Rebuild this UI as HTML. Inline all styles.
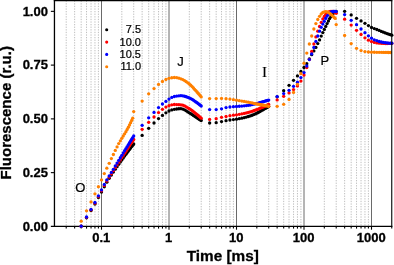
<!DOCTYPE html>
<html><head><meta charset="utf-8"><title>Fluorescence</title>
<style>
html,body{margin:0;padding:0;background:#fff;}
body{width:394px;height:265px;overflow:hidden;position:relative;font-family:"Liberation Sans",sans-serif;}
text{font-family:"Liberation Sans",sans-serif;fill:#000;}
text.r,text.s{stroke:#000;stroke-width:0.22px;}
text.b{stroke:#000;stroke-width:0.3px;}
text.b{font-weight:bold;}
text.s{font-family:"Liberation Serif",serif;}
</style></head><body>
<svg width="394" height="265" viewBox="0 0 394 265" style="position:absolute;left:0;top:0;will-change:transform">
<rect x="0" y="0" width="394" height="265" fill="#fff"/>
<g stroke="#b8b8b8" stroke-width="0.9" stroke-dasharray="1.3 1.3" fill="none"><line x1="66.21" y1="0.6" x2="66.21" y2="226.4"/><line x1="74.64" y1="0.6" x2="74.64" y2="226.4"/><line x1="81.18" y1="0.6" x2="81.18" y2="226.4"/><line x1="86.53" y1="0.6" x2="86.53" y2="226.4"/><line x1="91.04" y1="0.6" x2="91.04" y2="226.4"/><line x1="94.96" y1="0.6" x2="94.96" y2="226.4"/><line x1="98.41" y1="0.6" x2="98.41" y2="226.4"/><line x1="121.82" y1="0.6" x2="121.82" y2="226.4"/><line x1="133.71" y1="0.6" x2="133.71" y2="226.4"/><line x1="142.14" y1="0.6" x2="142.14" y2="226.4"/><line x1="148.68" y1="0.6" x2="148.68" y2="226.4"/><line x1="154.03" y1="0.6" x2="154.03" y2="226.4"/><line x1="158.54" y1="0.6" x2="158.54" y2="226.4"/><line x1="162.46" y1="0.6" x2="162.46" y2="226.4"/><line x1="165.91" y1="0.6" x2="165.91" y2="226.4"/><line x1="189.32" y1="0.6" x2="189.32" y2="226.4"/><line x1="201.21" y1="0.6" x2="201.21" y2="226.4"/><line x1="209.64" y1="0.6" x2="209.64" y2="226.4"/><line x1="216.18" y1="0.6" x2="216.18" y2="226.4"/><line x1="221.53" y1="0.6" x2="221.53" y2="226.4"/><line x1="226.04" y1="0.6" x2="226.04" y2="226.4"/><line x1="229.96" y1="0.6" x2="229.96" y2="226.4"/><line x1="233.41" y1="0.6" x2="233.41" y2="226.4"/><line x1="256.82" y1="0.6" x2="256.82" y2="226.4"/><line x1="268.71" y1="0.6" x2="268.71" y2="226.4"/><line x1="277.14" y1="0.6" x2="277.14" y2="226.4"/><line x1="283.68" y1="0.6" x2="283.68" y2="226.4"/><line x1="289.03" y1="0.6" x2="289.03" y2="226.4"/><line x1="293.54" y1="0.6" x2="293.54" y2="226.4"/><line x1="297.46" y1="0.6" x2="297.46" y2="226.4"/><line x1="300.91" y1="0.6" x2="300.91" y2="226.4"/><line x1="324.32" y1="0.6" x2="324.32" y2="226.4"/><line x1="336.21" y1="0.6" x2="336.21" y2="226.4"/><line x1="344.64" y1="0.6" x2="344.64" y2="226.4"/><line x1="351.18" y1="0.6" x2="351.18" y2="226.4"/><line x1="356.53" y1="0.6" x2="356.53" y2="226.4"/><line x1="361.04" y1="0.6" x2="361.04" y2="226.4"/><line x1="364.96" y1="0.6" x2="364.96" y2="226.4"/><line x1="368.41" y1="0.6" x2="368.41" y2="226.4"/></g>
<g stroke="#6a6a6a" stroke-width="1.0" fill="none"><line x1="101.50" y1="0.6" x2="101.50" y2="226.4"/><line x1="169.00" y1="0.6" x2="169.00" y2="226.4"/><line x1="236.50" y1="0.6" x2="236.50" y2="226.4"/><line x1="304.00" y1="0.6" x2="304.00" y2="226.4"/><line x1="371.50" y1="0.6" x2="371.50" y2="226.4"/></g>
<g stroke="#000" stroke-width="1.3" fill="none"><line x1="54.45" y1="-0.050000000000000044" x2="54.45" y2="226.95000000000002"/><line x1="53.800000000000004" y1="0.6" x2="392.4" y2="0.6"/></g>
<line x1="50.85" y1="226.4" x2="392.4" y2="226.4" stroke="#000" stroke-width="1.1"/>
<g stroke="#000" stroke-width="1.1" fill="none"><line x1="50.85" y1="172.64" x2="54.45" y2="172.64"/><line x1="50.85" y1="118.88" x2="54.45" y2="118.88"/><line x1="50.85" y1="65.11" x2="54.45" y2="65.11"/><line x1="50.85" y1="11.35" x2="54.45" y2="11.35"/><line x1="101.50" y1="226.4" x2="101.50" y2="229.70000000000002"/><line x1="169.00" y1="226.4" x2="169.00" y2="229.70000000000002"/><line x1="236.50" y1="226.4" x2="236.50" y2="229.70000000000002"/><line x1="304.00" y1="226.4" x2="304.00" y2="229.70000000000002"/><line x1="371.50" y1="226.4" x2="371.50" y2="229.70000000000002"/><line x1="66.21" y1="226.4" x2="66.21" y2="228.6"/><line x1="74.64" y1="226.4" x2="74.64" y2="228.6"/><line x1="81.18" y1="226.4" x2="81.18" y2="228.6"/><line x1="86.53" y1="226.4" x2="86.53" y2="228.6"/><line x1="91.04" y1="226.4" x2="91.04" y2="228.6"/><line x1="94.96" y1="226.4" x2="94.96" y2="228.6"/><line x1="98.41" y1="226.4" x2="98.41" y2="228.6"/><line x1="121.82" y1="226.4" x2="121.82" y2="228.6"/><line x1="133.71" y1="226.4" x2="133.71" y2="228.6"/><line x1="142.14" y1="226.4" x2="142.14" y2="228.6"/><line x1="148.68" y1="226.4" x2="148.68" y2="228.6"/><line x1="154.03" y1="226.4" x2="154.03" y2="228.6"/><line x1="158.54" y1="226.4" x2="158.54" y2="228.6"/><line x1="162.46" y1="226.4" x2="162.46" y2="228.6"/><line x1="165.91" y1="226.4" x2="165.91" y2="228.6"/><line x1="189.32" y1="226.4" x2="189.32" y2="228.6"/><line x1="201.21" y1="226.4" x2="201.21" y2="228.6"/><line x1="209.64" y1="226.4" x2="209.64" y2="228.6"/><line x1="216.18" y1="226.4" x2="216.18" y2="228.6"/><line x1="221.53" y1="226.4" x2="221.53" y2="228.6"/><line x1="226.04" y1="226.4" x2="226.04" y2="228.6"/><line x1="229.96" y1="226.4" x2="229.96" y2="228.6"/><line x1="233.41" y1="226.4" x2="233.41" y2="228.6"/><line x1="256.82" y1="226.4" x2="256.82" y2="228.6"/><line x1="268.71" y1="226.4" x2="268.71" y2="228.6"/><line x1="277.14" y1="226.4" x2="277.14" y2="228.6"/><line x1="283.68" y1="226.4" x2="283.68" y2="228.6"/><line x1="289.03" y1="226.4" x2="289.03" y2="228.6"/><line x1="293.54" y1="226.4" x2="293.54" y2="228.6"/><line x1="297.46" y1="226.4" x2="297.46" y2="228.6"/><line x1="300.91" y1="226.4" x2="300.91" y2="228.6"/><line x1="324.32" y1="226.4" x2="324.32" y2="228.6"/><line x1="336.21" y1="226.4" x2="336.21" y2="228.6"/><line x1="344.64" y1="226.4" x2="344.64" y2="228.6"/><line x1="351.18" y1="226.4" x2="351.18" y2="228.6"/><line x1="356.53" y1="226.4" x2="356.53" y2="228.6"/><line x1="361.04" y1="226.4" x2="361.04" y2="228.6"/><line x1="364.96" y1="226.4" x2="364.96" y2="228.6"/><line x1="368.41" y1="226.4" x2="368.41" y2="228.6"/><line x1="391.75" y1="226.4" x2="391.75" y2="228.6"/></g>
<clipPath id="cp"><rect x="54.45" y="0.6" width="339.55" height="228.8"/></clipPath>
<g clip-path="url(#cp)">
<g fill="#000000"><circle cx="81.18" cy="226.20" r="1.65"/><circle cx="86.53" cy="217.80" r="1.65"/><circle cx="91.04" cy="210.60" r="1.65"/><circle cx="94.96" cy="204.00" r="1.65"/><circle cx="98.41" cy="197.60" r="1.65"/><circle cx="101.50" cy="192.00" r="1.65"/><circle cx="104.29" cy="186.79" r="1.65"/><circle cx="106.84" cy="182.20" r="1.65"/><circle cx="109.19" cy="178.36" r="1.65"/><circle cx="111.36" cy="175.00" r="1.65"/><circle cx="113.39" cy="171.98" r="1.65"/><circle cx="115.28" cy="169.22" r="1.65"/><circle cx="117.06" cy="166.69" r="1.65"/><circle cx="118.73" cy="164.33" r="1.65"/><circle cx="120.32" cy="162.11" r="1.65"/><circle cx="121.82" cy="160.00" r="1.65"/><circle cx="123.25" cy="158.00" r="1.65"/><circle cx="124.61" cy="156.11" r="1.65"/><circle cx="125.92" cy="154.31" r="1.65"/><circle cx="127.16" cy="152.61" r="1.65"/><circle cx="128.36" cy="151.00" r="1.65"/><circle cx="129.51" cy="149.47" r="1.65"/><circle cx="130.62" cy="148.01" r="1.65"/><circle cx="131.68" cy="146.61" r="1.65"/><circle cx="132.71" cy="145.28" r="1.65"/><circle cx="133.71" cy="144.00" r="1.65"/><circle cx="142.14" cy="135.40" r="1.65"/><circle cx="148.68" cy="128.30" r="1.65"/><circle cx="154.03" cy="123.00" r="1.65"/><circle cx="158.54" cy="118.60" r="1.65"/><circle cx="162.46" cy="115.40" r="1.65"/><circle cx="165.91" cy="112.80" r="1.65"/><circle cx="169.00" cy="111.00" r="1.65"/><circle cx="171.79" cy="109.92" r="1.65"/><circle cx="174.34" cy="109.30" r="1.65"/><circle cx="176.69" cy="108.98" r="1.65"/><circle cx="178.86" cy="108.77" r="1.65"/><circle cx="180.89" cy="108.70" r="1.65"/><circle cx="182.78" cy="109.04" r="1.65"/><circle cx="184.56" cy="109.85" r="1.65"/><circle cx="186.23" cy="110.86" r="1.65"/><circle cx="187.82" cy="111.88" r="1.65"/><circle cx="189.32" cy="112.80" r="1.65"/><circle cx="190.75" cy="113.66" r="1.65"/><circle cx="192.11" cy="114.56" r="1.65"/><circle cx="193.42" cy="115.45" r="1.65"/><circle cx="194.66" cy="116.31" r="1.65"/><circle cx="195.86" cy="117.10" r="1.65"/><circle cx="197.01" cy="117.84" r="1.65"/><circle cx="198.12" cy="118.55" r="1.65"/><circle cx="199.18" cy="119.23" r="1.65"/><circle cx="200.21" cy="119.88" r="1.65"/><circle cx="201.21" cy="120.50" r="1.65"/><circle cx="209.64" cy="123.00" r="1.65"/><circle cx="216.18" cy="122.70" r="1.65"/><circle cx="221.53" cy="121.60" r="1.65"/><circle cx="226.04" cy="120.70" r="1.65"/><circle cx="229.96" cy="120.00" r="1.65"/><circle cx="233.41" cy="119.59" r="1.65"/><circle cx="236.50" cy="119.20" r="1.65"/><circle cx="239.29" cy="118.72" r="1.65"/><circle cx="241.84" cy="118.19" r="1.65"/><circle cx="244.19" cy="117.64" r="1.65"/><circle cx="246.36" cy="117.07" r="1.65"/><circle cx="248.39" cy="116.50" r="1.65"/><circle cx="250.28" cy="115.90" r="1.65"/><circle cx="252.06" cy="115.25" r="1.65"/><circle cx="253.73" cy="114.57" r="1.65"/><circle cx="255.32" cy="113.89" r="1.65"/><circle cx="256.82" cy="113.20" r="1.65"/><circle cx="258.25" cy="112.48" r="1.65"/><circle cx="259.61" cy="111.71" r="1.65"/><circle cx="260.92" cy="110.94" r="1.65"/><circle cx="262.16" cy="110.19" r="1.65"/><circle cx="263.36" cy="109.50" r="1.65"/><circle cx="264.51" cy="108.85" r="1.65"/><circle cx="265.62" cy="108.23" r="1.65"/><circle cx="266.68" cy="107.63" r="1.65"/><circle cx="267.71" cy="107.06" r="1.65"/><circle cx="268.71" cy="106.50" r="1.65"/><circle cx="277.14" cy="96.80" r="1.65"/><circle cx="283.68" cy="90.70" r="1.65"/><circle cx="289.03" cy="85.30" r="1.65"/><circle cx="293.54" cy="80.30" r="1.65"/><circle cx="297.46" cy="75.90" r="1.65"/><circle cx="300.91" cy="71.40" r="1.65"/><circle cx="304.00" cy="67.50" r="1.65"/><circle cx="306.79" cy="63.70" r="1.65"/><circle cx="309.34" cy="58.80" r="1.65"/><circle cx="311.69" cy="54.70" r="1.65"/><circle cx="313.86" cy="50.90" r="1.65"/><circle cx="315.89" cy="47.40" r="1.65"/><circle cx="317.78" cy="43.60" r="1.65"/><circle cx="319.56" cy="39.90" r="1.65"/><circle cx="321.23" cy="36.10" r="1.65"/><circle cx="322.82" cy="32.60" r="1.65"/><circle cx="324.32" cy="29.40" r="1.65"/><circle cx="325.75" cy="26.40" r="1.65"/><circle cx="327.11" cy="23.60" r="1.65"/><circle cx="328.42" cy="21.00" r="1.65"/><circle cx="329.66" cy="18.60" r="1.65"/><circle cx="330.86" cy="16.70" r="1.65"/><circle cx="332.01" cy="15.00" r="1.65"/><circle cx="333.12" cy="13.50" r="1.65"/><circle cx="334.18" cy="12.50" r="1.65"/><circle cx="335.21" cy="11.80" r="1.65"/><circle cx="336.21" cy="11.50" r="1.65"/><circle cx="344.64" cy="11.30" r="1.65"/><circle cx="351.18" cy="14.90" r="1.65"/><circle cx="356.53" cy="18.30" r="1.65"/><circle cx="361.04" cy="20.90" r="1.65"/><circle cx="364.96" cy="23.30" r="1.65"/><circle cx="368.41" cy="25.60" r="1.65"/><circle cx="371.50" cy="27.50" r="1.65"/><circle cx="374.29" cy="28.60" r="1.65"/><circle cx="376.84" cy="29.50" r="1.65"/><circle cx="379.19" cy="30.45" r="1.65"/><circle cx="381.36" cy="31.38" r="1.65"/><circle cx="383.39" cy="32.20" r="1.65"/><circle cx="385.28" cy="32.91" r="1.65"/><circle cx="387.06" cy="33.56" r="1.65"/><circle cx="388.73" cy="34.15" r="1.65"/><circle cx="390.32" cy="34.69" r="1.65"/><circle cx="391.82" cy="35.20" r="1.65"/></g>
<g fill="#ff0000"><circle cx="81.18" cy="226.20" r="1.65"/><circle cx="86.53" cy="217.30" r="1.65"/><circle cx="91.04" cy="209.90" r="1.65"/><circle cx="94.96" cy="203.20" r="1.65"/><circle cx="98.41" cy="196.60" r="1.65"/><circle cx="101.50" cy="190.80" r="1.65"/><circle cx="104.29" cy="185.57" r="1.65"/><circle cx="106.84" cy="181.00" r="1.65"/><circle cx="109.19" cy="177.19" r="1.65"/><circle cx="111.36" cy="173.80" r="1.65"/><circle cx="113.39" cy="170.63" r="1.65"/><circle cx="115.28" cy="167.69" r="1.65"/><circle cx="117.06" cy="164.95" r="1.65"/><circle cx="118.73" cy="162.37" r="1.65"/><circle cx="120.32" cy="159.92" r="1.65"/><circle cx="121.82" cy="157.60" r="1.65"/><circle cx="123.25" cy="155.38" r="1.65"/><circle cx="124.61" cy="153.27" r="1.65"/><circle cx="125.92" cy="151.25" r="1.65"/><circle cx="127.16" cy="149.33" r="1.65"/><circle cx="128.36" cy="147.50" r="1.65"/><circle cx="129.51" cy="145.76" r="1.65"/><circle cx="130.62" cy="144.09" r="1.65"/><circle cx="131.68" cy="142.50" r="1.65"/><circle cx="132.71" cy="140.97" r="1.65"/><circle cx="133.71" cy="139.50" r="1.65"/><circle cx="142.14" cy="129.30" r="1.65"/><circle cx="148.68" cy="122.30" r="1.65"/><circle cx="154.03" cy="117.00" r="1.65"/><circle cx="158.54" cy="112.60" r="1.65"/><circle cx="162.46" cy="109.30" r="1.65"/><circle cx="165.91" cy="107.10" r="1.65"/><circle cx="169.00" cy="105.70" r="1.65"/><circle cx="171.79" cy="104.86" r="1.65"/><circle cx="174.34" cy="104.50" r="1.65"/><circle cx="176.69" cy="104.54" r="1.65"/><circle cx="178.86" cy="104.65" r="1.65"/><circle cx="180.89" cy="104.80" r="1.65"/><circle cx="182.78" cy="105.20" r="1.65"/><circle cx="184.56" cy="105.95" r="1.65"/><circle cx="186.23" cy="106.86" r="1.65"/><circle cx="187.82" cy="107.80" r="1.65"/><circle cx="189.32" cy="108.70" r="1.65"/><circle cx="190.75" cy="109.61" r="1.65"/><circle cx="192.11" cy="110.60" r="1.65"/><circle cx="193.42" cy="111.62" r="1.65"/><circle cx="194.66" cy="112.63" r="1.65"/><circle cx="195.86" cy="113.60" r="1.65"/><circle cx="197.01" cy="114.54" r="1.65"/><circle cx="198.12" cy="115.47" r="1.65"/><circle cx="199.18" cy="116.39" r="1.65"/><circle cx="200.21" cy="117.30" r="1.65"/><circle cx="201.21" cy="118.20" r="1.65"/><circle cx="209.64" cy="119.40" r="1.65"/><circle cx="216.18" cy="118.70" r="1.65"/><circle cx="221.53" cy="117.30" r="1.65"/><circle cx="226.04" cy="116.50" r="1.65"/><circle cx="229.96" cy="115.70" r="1.65"/><circle cx="233.41" cy="115.22" r="1.65"/><circle cx="236.50" cy="114.80" r="1.65"/><circle cx="239.29" cy="114.33" r="1.65"/><circle cx="241.84" cy="113.86" r="1.65"/><circle cx="244.19" cy="113.38" r="1.65"/><circle cx="246.36" cy="112.89" r="1.65"/><circle cx="248.39" cy="112.40" r="1.65"/><circle cx="250.28" cy="111.87" r="1.65"/><circle cx="252.06" cy="111.31" r="1.65"/><circle cx="253.73" cy="110.73" r="1.65"/><circle cx="255.32" cy="110.15" r="1.65"/><circle cx="256.82" cy="109.60" r="1.65"/><circle cx="258.25" cy="109.05" r="1.65"/><circle cx="259.61" cy="108.50" r="1.65"/><circle cx="260.92" cy="107.96" r="1.65"/><circle cx="262.16" cy="107.42" r="1.65"/><circle cx="263.36" cy="106.90" r="1.65"/><circle cx="264.51" cy="106.39" r="1.65"/><circle cx="265.62" cy="105.88" r="1.65"/><circle cx="266.68" cy="105.38" r="1.65"/><circle cx="267.71" cy="104.89" r="1.65"/><circle cx="268.71" cy="104.40" r="1.65"/><circle cx="277.14" cy="99.90" r="1.65"/><circle cx="283.68" cy="96.30" r="1.65"/><circle cx="289.03" cy="92.90" r="1.65"/><circle cx="293.54" cy="89.60" r="1.65"/><circle cx="297.46" cy="85.90" r="1.65"/><circle cx="300.91" cy="81.10" r="1.65"/><circle cx="304.00" cy="75.10" r="1.65"/><circle cx="306.79" cy="67.50" r="1.65"/><circle cx="309.34" cy="59.50" r="1.65"/><circle cx="311.69" cy="51.50" r="1.65"/><circle cx="313.86" cy="44.00" r="1.65"/><circle cx="315.89" cy="36.90" r="1.65"/><circle cx="317.78" cy="31.20" r="1.65"/><circle cx="319.56" cy="26.50" r="1.65"/><circle cx="321.23" cy="22.40" r="1.65"/><circle cx="322.82" cy="19.00" r="1.65"/><circle cx="324.32" cy="16.50" r="1.65"/><circle cx="325.75" cy="14.40" r="1.65"/><circle cx="327.11" cy="12.90" r="1.65"/><circle cx="328.42" cy="12.10" r="1.65"/><circle cx="329.66" cy="11.70" r="1.65"/><circle cx="330.86" cy="11.50" r="1.65"/><circle cx="332.01" cy="11.40" r="1.65"/><circle cx="333.12" cy="11.50" r="1.65"/><circle cx="334.18" cy="11.80" r="1.65"/><circle cx="335.21" cy="12.40" r="1.65"/><circle cx="336.21" cy="13.30" r="1.65"/><circle cx="344.64" cy="19.20" r="1.65"/><circle cx="351.18" cy="25.10" r="1.65"/><circle cx="356.53" cy="30.30" r="1.65"/><circle cx="361.04" cy="34.50" r="1.65"/><circle cx="364.96" cy="37.80" r="1.65"/><circle cx="368.41" cy="40.20" r="1.65"/><circle cx="371.50" cy="41.60" r="1.65"/><circle cx="374.29" cy="42.40" r="1.65"/><circle cx="376.84" cy="42.90" r="1.65"/><circle cx="379.19" cy="43.20" r="1.65"/><circle cx="381.36" cy="43.36" r="1.65"/><circle cx="383.39" cy="43.46" r="1.65"/><circle cx="385.28" cy="43.50" r="1.65"/><circle cx="387.06" cy="43.48" r="1.65"/><circle cx="388.73" cy="43.45" r="1.65"/><circle cx="390.32" cy="43.41" r="1.65"/><circle cx="391.82" cy="43.40" r="1.65"/></g>
<g fill="#0000ff"><circle cx="81.18" cy="226.20" r="1.65"/><circle cx="86.53" cy="217.00" r="1.65"/><circle cx="91.04" cy="209.40" r="1.65"/><circle cx="94.96" cy="202.50" r="1.65"/><circle cx="98.41" cy="195.80" r="1.65"/><circle cx="101.50" cy="189.90" r="1.65"/><circle cx="104.29" cy="184.50" r="1.65"/><circle cx="106.84" cy="179.90" r="1.65"/><circle cx="109.19" cy="176.00" r="1.65"/><circle cx="111.36" cy="172.40" r="1.65"/><circle cx="113.39" cy="169.30" r="1.65"/><circle cx="115.28" cy="166.00" r="1.65"/><circle cx="117.06" cy="163.03" r="1.65"/><circle cx="118.73" cy="160.30" r="1.65"/><circle cx="120.32" cy="157.74" r="1.65"/><circle cx="121.82" cy="155.30" r="1.65"/><circle cx="123.25" cy="152.96" r="1.65"/><circle cx="124.61" cy="150.72" r="1.65"/><circle cx="125.92" cy="148.58" r="1.65"/><circle cx="127.16" cy="146.55" r="1.65"/><circle cx="128.36" cy="144.60" r="1.65"/><circle cx="129.51" cy="142.74" r="1.65"/><circle cx="130.62" cy="140.95" r="1.65"/><circle cx="131.68" cy="139.24" r="1.65"/><circle cx="132.71" cy="137.59" r="1.65"/><circle cx="133.71" cy="136.00" r="1.65"/><circle cx="142.14" cy="125.30" r="1.65"/><circle cx="148.68" cy="117.80" r="1.65"/><circle cx="154.03" cy="112.40" r="1.65"/><circle cx="158.54" cy="107.60" r="1.65"/><circle cx="162.46" cy="104.00" r="1.65"/><circle cx="165.91" cy="101.40" r="1.65"/><circle cx="169.00" cy="99.10" r="1.65"/><circle cx="171.79" cy="97.47" r="1.65"/><circle cx="174.34" cy="96.50" r="1.65"/><circle cx="176.69" cy="96.07" r="1.65"/><circle cx="178.86" cy="95.80" r="1.65"/><circle cx="180.89" cy="95.70" r="1.65"/><circle cx="182.78" cy="95.86" r="1.65"/><circle cx="184.56" cy="96.25" r="1.65"/><circle cx="186.23" cy="96.77" r="1.65"/><circle cx="187.82" cy="97.34" r="1.65"/><circle cx="189.32" cy="97.90" r="1.65"/><circle cx="190.75" cy="98.55" r="1.65"/><circle cx="192.11" cy="99.34" r="1.65"/><circle cx="193.42" cy="100.20" r="1.65"/><circle cx="194.66" cy="101.07" r="1.65"/><circle cx="195.86" cy="101.90" r="1.65"/><circle cx="197.01" cy="102.71" r="1.65"/><circle cx="198.12" cy="103.53" r="1.65"/><circle cx="199.18" cy="104.35" r="1.65"/><circle cx="200.21" cy="105.18" r="1.65"/><circle cx="201.21" cy="106.00" r="1.65"/><circle cx="209.64" cy="109.60" r="1.65"/><circle cx="216.18" cy="109.60" r="1.65"/><circle cx="221.53" cy="108.80" r="1.65"/><circle cx="226.04" cy="107.60" r="1.65"/><circle cx="229.96" cy="107.00" r="1.65"/><circle cx="233.41" cy="106.72" r="1.65"/><circle cx="236.50" cy="106.50" r="1.65"/><circle cx="239.29" cy="106.26" r="1.65"/><circle cx="241.84" cy="106.04" r="1.65"/><circle cx="244.19" cy="105.81" r="1.65"/><circle cx="246.36" cy="105.57" r="1.65"/><circle cx="248.39" cy="105.30" r="1.65"/><circle cx="250.28" cy="104.98" r="1.65"/><circle cx="252.06" cy="104.59" r="1.65"/><circle cx="253.73" cy="104.18" r="1.65"/><circle cx="255.32" cy="103.78" r="1.65"/><circle cx="256.82" cy="103.40" r="1.65"/><circle cx="258.25" cy="103.03" r="1.65"/><circle cx="259.61" cy="102.66" r="1.65"/><circle cx="260.92" cy="102.29" r="1.65"/><circle cx="262.16" cy="101.94" r="1.65"/><circle cx="263.36" cy="101.60" r="1.65"/><circle cx="264.51" cy="101.28" r="1.65"/><circle cx="265.62" cy="100.97" r="1.65"/><circle cx="266.68" cy="100.67" r="1.65"/><circle cx="267.71" cy="100.38" r="1.65"/><circle cx="268.71" cy="100.10" r="1.65"/><circle cx="277.14" cy="96.60" r="1.65"/><circle cx="283.68" cy="93.60" r="1.65"/><circle cx="289.03" cy="90.30" r="1.65"/><circle cx="293.54" cy="86.30" r="1.65"/><circle cx="297.46" cy="82.20" r="1.65"/><circle cx="300.91" cy="77.60" r="1.65"/><circle cx="304.00" cy="72.60" r="1.65"/><circle cx="306.79" cy="66.00" r="1.65"/><circle cx="309.34" cy="59.60" r="1.65"/><circle cx="311.69" cy="53.90" r="1.65"/><circle cx="313.86" cy="47.50" r="1.65"/><circle cx="315.89" cy="41.40" r="1.65"/><circle cx="317.78" cy="36.00" r="1.65"/><circle cx="319.56" cy="31.20" r="1.65"/><circle cx="321.23" cy="27.30" r="1.65"/><circle cx="322.82" cy="24.10" r="1.65"/><circle cx="324.32" cy="21.30" r="1.65"/><circle cx="325.75" cy="18.40" r="1.65"/><circle cx="327.11" cy="16.10" r="1.65"/><circle cx="328.42" cy="14.40" r="1.65"/><circle cx="329.66" cy="13.00" r="1.65"/><circle cx="330.86" cy="12.10" r="1.65"/><circle cx="332.01" cy="11.70" r="1.65"/><circle cx="333.12" cy="11.50" r="1.65"/><circle cx="334.18" cy="11.30" r="1.65"/><circle cx="335.21" cy="11.30" r="1.65"/><circle cx="336.21" cy="11.60" r="1.65"/><circle cx="344.64" cy="14.60" r="1.65"/><circle cx="351.18" cy="20.30" r="1.65"/><circle cx="356.53" cy="24.70" r="1.65"/><circle cx="361.04" cy="29.00" r="1.65"/><circle cx="364.96" cy="32.70" r="1.65"/><circle cx="368.41" cy="35.80" r="1.65"/><circle cx="371.50" cy="38.20" r="1.65"/><circle cx="374.29" cy="39.80" r="1.65"/><circle cx="376.84" cy="40.70" r="1.65"/><circle cx="379.19" cy="41.50" r="1.65"/><circle cx="381.36" cy="42.02" r="1.65"/><circle cx="383.39" cy="42.40" r="1.65"/><circle cx="385.28" cy="42.69" r="1.65"/><circle cx="387.06" cy="42.90" r="1.65"/><circle cx="388.73" cy="43.05" r="1.65"/><circle cx="390.32" cy="43.16" r="1.65"/><circle cx="391.82" cy="43.20" r="1.65"/></g>
<g fill="#ff8000"><circle cx="81.18" cy="221.20" r="1.65"/><circle cx="86.53" cy="210.80" r="1.65"/><circle cx="91.04" cy="201.90" r="1.65"/><circle cx="94.96" cy="193.80" r="1.65"/><circle cx="98.41" cy="186.70" r="1.65"/><circle cx="101.50" cy="179.90" r="1.65"/><circle cx="104.29" cy="173.60" r="1.65"/><circle cx="106.84" cy="168.20" r="1.65"/><circle cx="109.19" cy="163.30" r="1.65"/><circle cx="111.36" cy="158.60" r="1.65"/><circle cx="113.39" cy="154.50" r="1.65"/><circle cx="115.28" cy="150.40" r="1.65"/><circle cx="117.06" cy="146.90" r="1.65"/><circle cx="118.73" cy="143.60" r="1.65"/><circle cx="120.32" cy="140.80" r="1.65"/><circle cx="121.82" cy="138.30" r="1.65"/><circle cx="123.25" cy="136.02" r="1.65"/><circle cx="124.61" cy="133.85" r="1.65"/><circle cx="125.92" cy="131.70" r="1.65"/><circle cx="127.16" cy="129.50" r="1.65"/><circle cx="128.36" cy="127.25" r="1.65"/><circle cx="129.51" cy="124.98" r="1.65"/><circle cx="130.62" cy="122.71" r="1.65"/><circle cx="131.68" cy="120.45" r="1.65"/><circle cx="132.71" cy="118.20" r="1.65"/><circle cx="133.71" cy="111.60" r="1.65"/><circle cx="142.14" cy="101.10" r="1.65"/><circle cx="148.68" cy="93.80" r="1.65"/><circle cx="154.03" cy="88.60" r="1.65"/><circle cx="158.54" cy="84.40" r="1.65"/><circle cx="162.46" cy="81.50" r="1.65"/><circle cx="165.91" cy="79.50" r="1.65"/><circle cx="169.00" cy="78.30" r="1.65"/><circle cx="171.79" cy="77.73" r="1.65"/><circle cx="174.34" cy="77.50" r="1.65"/><circle cx="176.69" cy="77.72" r="1.65"/><circle cx="178.86" cy="78.22" r="1.65"/><circle cx="180.89" cy="78.80" r="1.65"/><circle cx="182.78" cy="79.55" r="1.65"/><circle cx="184.56" cy="80.54" r="1.65"/><circle cx="186.23" cy="81.66" r="1.65"/><circle cx="187.82" cy="82.84" r="1.65"/><circle cx="189.32" cy="84.00" r="1.65"/><circle cx="190.75" cy="85.23" r="1.65"/><circle cx="192.11" cy="86.59" r="1.65"/><circle cx="193.42" cy="87.99" r="1.65"/><circle cx="194.66" cy="89.38" r="1.65"/><circle cx="195.86" cy="90.70" r="1.65"/><circle cx="197.01" cy="91.97" r="1.65"/><circle cx="198.12" cy="93.23" r="1.65"/><circle cx="199.18" cy="94.47" r="1.65"/><circle cx="200.21" cy="95.70" r="1.65"/><circle cx="201.21" cy="96.90" r="1.65"/><circle cx="209.64" cy="98.60" r="1.65"/><circle cx="216.18" cy="98.60" r="1.65"/><circle cx="221.53" cy="98.40" r="1.65"/><circle cx="226.04" cy="98.70" r="1.65"/><circle cx="229.96" cy="99.10" r="1.65"/><circle cx="233.41" cy="99.65" r="1.65"/><circle cx="236.50" cy="100.20" r="1.65"/><circle cx="239.29" cy="100.66" r="1.65"/><circle cx="241.84" cy="101.07" r="1.65"/><circle cx="244.19" cy="101.46" r="1.65"/><circle cx="246.36" cy="101.83" r="1.65"/><circle cx="248.39" cy="102.20" r="1.65"/><circle cx="250.28" cy="102.58" r="1.65"/><circle cx="252.06" cy="102.97" r="1.65"/><circle cx="253.73" cy="103.34" r="1.65"/><circle cx="255.32" cy="103.69" r="1.65"/><circle cx="256.82" cy="104.00" r="1.65"/><circle cx="258.25" cy="104.27" r="1.65"/><circle cx="259.61" cy="104.52" r="1.65"/><circle cx="260.92" cy="104.75" r="1.65"/><circle cx="262.16" cy="104.97" r="1.65"/><circle cx="263.36" cy="105.20" r="1.65"/><circle cx="264.51" cy="105.43" r="1.65"/><circle cx="265.62" cy="105.65" r="1.65"/><circle cx="266.68" cy="105.87" r="1.65"/><circle cx="267.71" cy="106.09" r="1.65"/><circle cx="268.71" cy="106.30" r="1.65"/><circle cx="277.14" cy="106.30" r="1.65"/><circle cx="283.68" cy="104.30" r="1.65"/><circle cx="289.03" cy="99.50" r="1.65"/><circle cx="293.54" cy="92.40" r="1.65"/><circle cx="297.46" cy="84.30" r="1.65"/><circle cx="300.91" cy="73.70" r="1.65"/><circle cx="304.00" cy="63.20" r="1.65"/><circle cx="306.79" cy="53.10" r="1.65"/><circle cx="309.34" cy="44.00" r="1.65"/><circle cx="311.69" cy="36.00" r="1.65"/><circle cx="313.86" cy="29.00" r="1.65"/><circle cx="315.89" cy="23.60" r="1.65"/><circle cx="317.78" cy="19.50" r="1.65"/><circle cx="319.56" cy="16.30" r="1.65"/><circle cx="321.23" cy="14.00" r="1.65"/><circle cx="322.82" cy="12.50" r="1.65"/><circle cx="324.32" cy="11.80" r="1.65"/><circle cx="325.75" cy="11.60" r="1.65"/><circle cx="327.11" cy="11.80" r="1.65"/><circle cx="328.42" cy="12.40" r="1.65"/><circle cx="329.66" cy="13.30" r="1.65"/><circle cx="330.86" cy="14.20" r="1.65"/><circle cx="332.01" cy="15.30" r="1.65"/><circle cx="333.12" cy="16.40" r="1.65"/><circle cx="334.18" cy="17.50" r="1.65"/><circle cx="335.21" cy="18.40" r="1.65"/><circle cx="336.21" cy="24.60" r="1.65"/><circle cx="344.64" cy="35.40" r="1.65"/><circle cx="351.18" cy="43.60" r="1.65"/><circle cx="356.53" cy="48.30" r="1.65"/><circle cx="361.04" cy="50.60" r="1.65"/><circle cx="364.96" cy="51.60" r="1.65"/><circle cx="368.41" cy="52.00" r="1.65"/><circle cx="371.50" cy="52.20" r="1.65"/><circle cx="374.29" cy="52.27" r="1.65"/><circle cx="376.84" cy="52.32" r="1.65"/><circle cx="379.19" cy="52.35" r="1.65"/><circle cx="381.36" cy="52.37" r="1.65"/><circle cx="383.39" cy="52.40" r="1.65"/><circle cx="385.28" cy="52.43" r="1.65"/><circle cx="387.06" cy="52.46" r="1.65"/><circle cx="388.73" cy="52.48" r="1.65"/><circle cx="390.32" cy="52.49" r="1.65"/></g>
</g>
<line x1="391.75" y1="0.6" x2="391.75" y2="226.4" stroke="#000" stroke-width="1.1"/>
<circle cx="106.7" cy="29.8" r="1.55" fill="#000000"/>
<text x="141.0" y="33.2" text-anchor="end" font-size="11" class="r">7.5</text>
<circle cx="106.7" cy="42.1" r="1.55" fill="#ff0000"/>
<text x="141.0" y="45.5" text-anchor="end" font-size="11" class="r">10.0</text>
<circle cx="106.7" cy="54.4" r="1.55" fill="#0000ff"/>
<text x="141.0" y="57.8" text-anchor="end" font-size="11" class="r">10.5</text>
<circle cx="106.7" cy="66.8" r="1.55" fill="#ff8000"/>
<text x="141.0" y="70.2" text-anchor="end" font-size="11" class="r">11.0</text>
<text x="80.2" y="192.3" text-anchor="middle" font-size="13" class="r">O</text>
<text x="180.6" y="65.8" text-anchor="middle" font-size="13" class="r">J</text>
<text x="324.8" y="65.1" text-anchor="middle" font-size="13" class="r">P</text>
<text x="264.45" y="77.1" text-anchor="middle" font-size="13.7" class="s">I</text>
<text x="47.95" y="230.55" text-anchor="end" font-size="13" class="b">0.00</text>
<text x="47.95" y="176.79" text-anchor="end" font-size="13" class="b">0.25</text>
<text x="47.95" y="123.03" text-anchor="end" font-size="13" class="b">0.50</text>
<text x="47.95" y="69.26" text-anchor="end" font-size="13" class="b">0.75</text>
<text x="47.95" y="15.50" text-anchor="end" font-size="13" class="b">1.00</text>
<text x="101.2" y="242.45" text-anchor="middle" font-size="13" class="b">0.1</text>
<text x="168.7" y="242.45" text-anchor="middle" font-size="13" class="b">1</text>
<text x="236.2" y="242.45" text-anchor="middle" font-size="13" class="b">10</text>
<text x="303.7" y="242.45" text-anchor="middle" font-size="13" class="b">100</text>
<text x="371.2" y="242.45" text-anchor="middle" font-size="13" class="b">1000</text>
<text x="222.8" y="261.1" text-anchor="middle" font-size="15.3" class="b">Time [ms]</text>
<text transform="translate(11,112.8) rotate(-90)" text-anchor="middle" font-size="15" class="b">Fluorescence (r.u.)</text>
</svg>
</body></html>
